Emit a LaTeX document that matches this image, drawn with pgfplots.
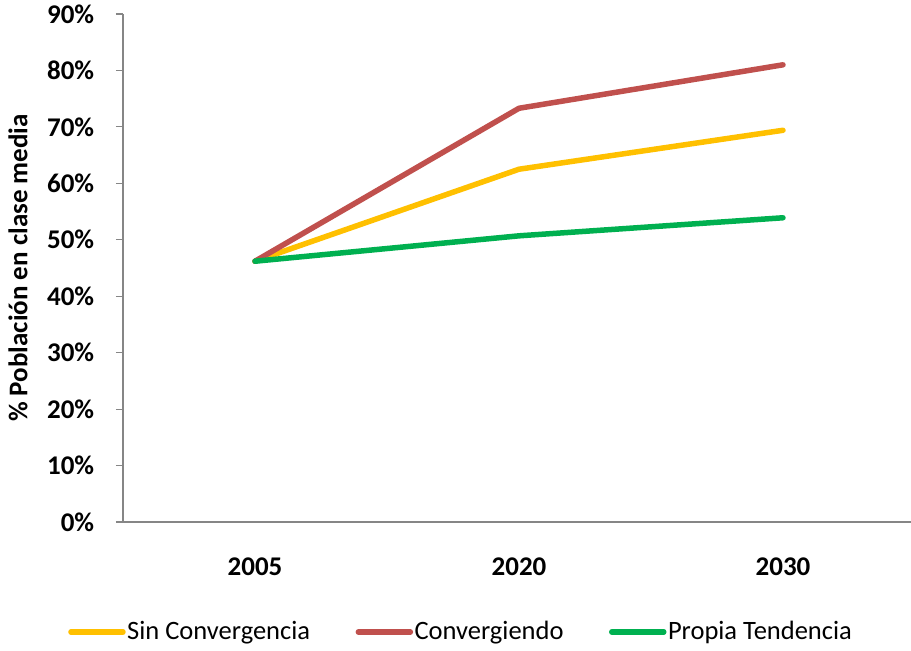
\documentclass[border=0pt]{standalone}
\usepackage{fontspec}
\setmainfont{Carlito}
\usepackage{pgfplots}
\pgfplotsset{compat=1.18}
\definecolor{cyel}{HTML}{FFC000}
\definecolor{cred}{HTML}{C0504D}
\definecolor{cgrn}{HTML}{00B050}
\definecolor{axg}{HTML}{868686}
\begin{document}
\fontsize{26}{30}\selectfont
\begin{tikzpicture}
\begin{axis}[
  scale only axis, width=792pt, height=508pt,
  at={(0,0)}, anchor=south west,
  xmin=-0.5, xmax=2.5, ymin=0, ymax=90,
  axis x line*=bottom, axis y line*=left,
  axis line style={axg, line width=1.5pt, -},
  xtick={0,1,2}, xticklabels={2005,2020,2030},
  minor xtick={-0.5,0.5,1.5,2.5},
  ytick={0,10,...,90},
  yticklabels={0\%,10\%,20\%,30\%,40\%,50\%,60\%,70\%,80\%,90\%},
  tick align=outside,
  x tick style={draw=none},
  minor x tick style={axg, line width=1.2pt},
  minor tick length=7pt,
  y tick style={axg, line width=1.2pt},
  major tick length=7pt,
  tick label style={font=\bfseries\fontsize{27}{30}\selectfont},
  xticklabel style={yshift=-20pt},
  yticklabel style={xshift=-13pt},
  ylabel={\textbf{\% Población en clase media}},
  ylabel style={at={(axis description cs:-0.1326,0.5)}, anchor=center, font=\bfseries\fontsize{27}{30}\selectfont},
  clip=false,
  legend style={at={(axis description cs:-0.0694,-0.2165)}, anchor=west, draw=none, legend columns=3,
    font=\fontsize{26.5}{30}\selectfont, /tikz/every even column/.append style={column sep=44pt},
    inner sep=0pt, nodes={inner sep=1.5pt}},
  legend image code/.code={\draw[line width=5.5pt, line cap=round] (0pt,0pt) -- (52pt,0pt);},
  every axis plot/.append style={line width=5.5pt, line cap=round, line join=round},
]
\addplot[cyel] coordinates {(0,46.2) (1,62.5) (2,69.4)};
\addlegendentry{Sin Convergencia}
\addplot[cred] coordinates {(0,46.2) (1,73.3) (2,81.0)};
\addlegendentry{Convergiendo}
\addplot[cgrn] coordinates {(0,46.2) (1,50.7) (2,53.9)};
\addlegendentry{Propia Tendencia}
\end{axis}
\pgfresetboundingbox
\path[use as bounding box] (-123pt,-129pt) rectangle (788pt,522pt);
\end{tikzpicture}
\end{document}
